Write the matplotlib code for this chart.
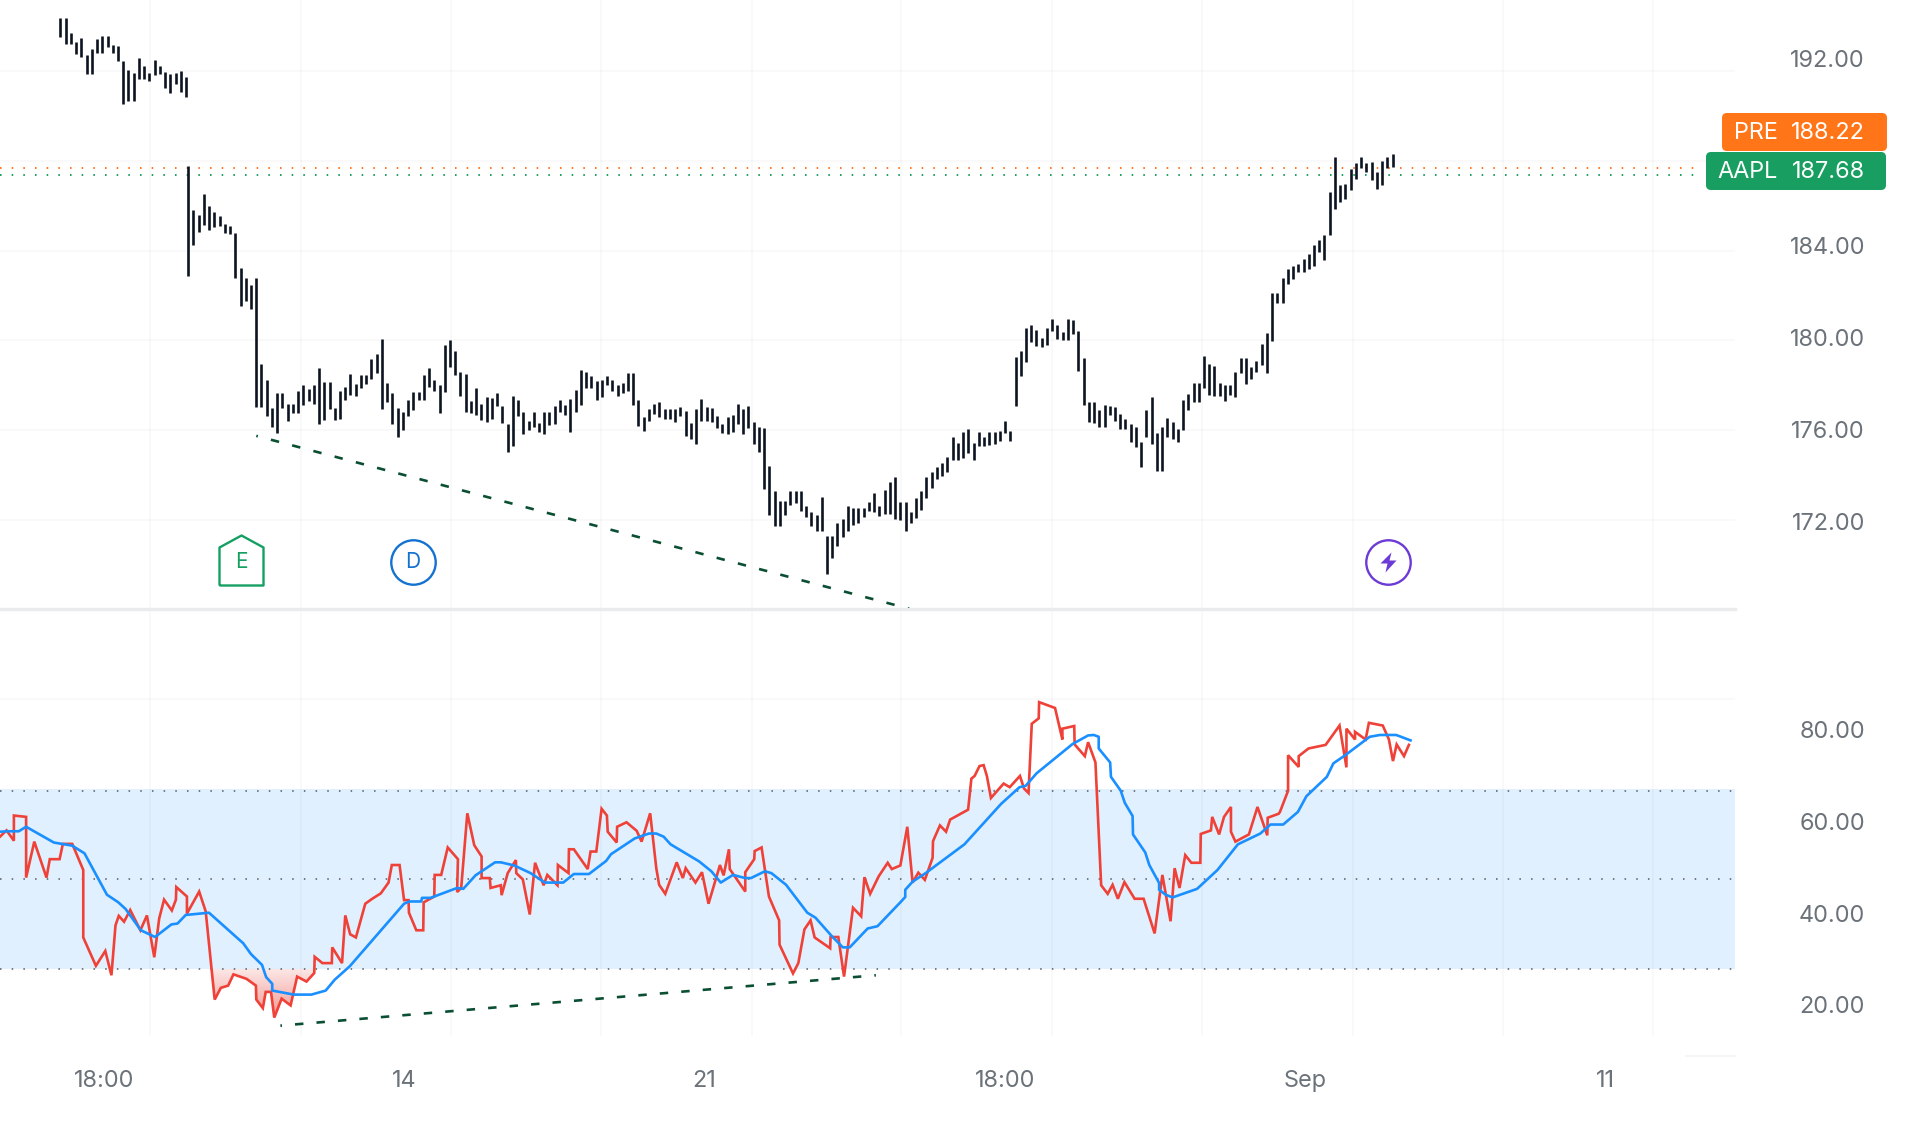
import matplotlib.pyplot as plt
from matplotlib.patches import FancyBboxPatch
import numpy as np

BAR_STEP = 12.83
FIRST_START = 148
SECOND_START = 461
RIGHT_T = 4251
GREY = '#6b7279'

plt.rcParams['font.family'] = ['Inter', 'DejaVu Sans']

# Bars before the gap

high_a = [194.35, 194.35, 193.69, 193.29, 193.46, 192.71, 192.99, 193.43, 193.55, 193.55, 193.16, 193.09, 192.44,
          192.05, 191.93, 192.56, 192.21, 191.91, 192.49, 192.23, 191.96, 191.86, 191.93, 192.02, 191.72]
low_a = [193.50, 193.20, 193.20, 192.76, 192.62, 191.88, 191.88, 192.81, 192.81, 193.08, 192.81, 192.46, 190.52,
         190.68, 190.68, 191.66, 191.66, 191.54, 191.84, 191.88, 191.22, 191.03, 191.40, 191.05, 190.82]

# Bars after the gap

high_b = [187.77, 185.79, 185.58, 186.50, 185.97, 185.70, 185.53, 185.19, 185.09, 184.79, 183.23, 182.76, 182.48,
          182.76, 178.95, 178.26, 177.01, 177.64, 177.64, 177.19, 177.19, 177.77, 178.00, 177.82, 178.00, 178.77,
          178.17, 178.17, 177.01, 177.77, 177.94, 178.51, 178.07, 178.47, 178.47, 179.18, 179.41, 180.06, 178.12,
          177.64, 177.01, 176.83, 177.33, 177.71, 177.71, 178.47, 178.79, 178.26, 178.00, 179.80, 180.01, 179.53,
          178.60, 178.51, 177.29, 177.86, 177.15, 177.50, 177.45, 177.64, 177.10, 176.27, 177.54, 177.36, 176.83,
          176.41, 176.83, 176.34, 176.80, 176.80, 177.06, 177.36, 177.11, 177.41, 177.80, 178.68, 178.60, 178.42,
          178.21, 178.24, 178.42, 178.24, 178.03, 178.12, 178.53, 178.53, 177.33,
          176.57, 176.96, 177.18, 177.24, 176.96, 176.94, 176.94, 177.05, 176.87, 176.32, 176.96, 177.41, 177.05,
          176.99, 176.62, 176.29, 176.57, 176.69, 177.18, 176.96, 177.06, 176.36, 176.13, 176.10, 174.41, 173.31,
          172.86, 172.86, 173.31, 173.31, 173.31, 172.62, 172.37, 172.22, 173.04, 171.28, 171.28, 171.85, 172.03,
          172.62, 172.55, 172.52, 172.52, 172.82, 173.19, 172.64, 173.34, 173.71, 173.93, 172.82, 172.82, 172.37,
          172.97, 173.29, 173.93, 174.13, 174.38, 174.53, 174.80, 175.71, 175.42, 175.92, 176.07, 175.42, 175.92,
          175.69, 175.90, 175.92, 175.95, 176.42, 175.95, 179.27, 179.52, 180.54, 180.67, 180.48, 180.12, 180.54,
          180.94, 180.69, 180.39, 180.94, 180.89, 180.42, 179.23, 177.26, 177.26, 176.91, 177.14, 177.09, 177.02,
          176.73, 176.51, 176.27, 176.13, 175.47, 176.91, 177.48, 175.86, 176.13, 176.54, 176.36, 176.07, 177.33,
          177.62, 178.11, 178.11, 179.30, 178.96, 178.88, 178.11, 178.00, 178.00, 178.58, 179.20, 179.20, 178.82,
          179.07, 179.82, 180.34, 182.10,
          182.11, 182.78, 183.18, 183.33, 183.42, 183.64, 183.87, 184.27, 184.49, 184.71, 186.61, 188.16, 186.94,
          186.98, 187.65, 187.88, 188.16, 187.91, 187.94, 187.52, 187.98, 188.16, 188.30]
low_b = [182.88, 184.24, 184.82, 185.12, 184.91, 185.03, 185.09, 184.79, 184.73, 182.79, 181.52, 181.74, 181.38,
         177.03, 177.03, 176.62, 176.13, 175.88, 176.97, 176.41, 176.76, 176.76, 177.11, 177.29, 177.19, 176.30,
         176.44, 176.94, 176.44, 176.51, 177.36, 177.56, 177.54, 177.89, 178.07, 178.30, 178.53, 176.94, 177.26,
         176.30, 175.70, 176.00, 176.62, 176.89, 177.33, 177.36, 177.94, 177.77, 176.76, 177.71, 178.83, 178.47,
         177.54, 176.80, 176.76, 176.66, 176.44, 176.36, 176.51, 177.06, 176.34, 175.03, 175.30, 176.62, 175.83,
         176.00, 176.13, 175.92, 175.83, 176.23, 176.30, 176.80, 176.66, 175.92, 176.80, 177.11, 177.89, 177.89,
         177.33, 177.47, 178.00, 177.77, 177.54, 177.64, 177.77, 177.11, 176.18,
         175.98, 176.42, 176.72, 176.57, 176.50, 176.50, 176.36, 176.62, 175.74, 175.62, 175.38, 176.42, 176.42,
         176.36, 176.10, 175.86, 175.84, 175.90, 176.29, 175.83, 176.10, 175.38, 175.02, 173.38, 172.22, 171.73,
         171.73, 172.22, 172.67, 172.74, 172.40, 172.15, 171.73, 171.53, 171.53, 169.61, 170.33, 170.83, 171.25,
         171.53, 171.77, 171.89, 172.15, 172.40, 172.37, 172.19, 172.25, 172.25, 172.04, 172.00, 171.53, 171.89,
         172.10, 172.44, 173.00, 173.44, 173.83, 173.98, 174.13, 174.68, 174.68, 174.75, 174.98, 174.68, 175.31,
         175.31, 175.35, 175.38, 175.54, 175.86, 175.53, 177.09, 178.42, 179.05, 179.94, 179.75, 179.70, 179.78,
         180.42, 180.07, 180.04, 180.01, 180.27, 178.63, 177.11, 176.35, 176.32, 176.16, 176.16, 176.66, 176.39,
         176.07, 176.07, 175.47, 175.26, 174.37, 175.72, 175.38, 174.19, 174.19, 175.72, 175.62, 175.47, 176.02,
         176.91, 177.26, 177.26, 177.88, 177.59, 177.53, 177.53, 177.29, 177.56, 177.47, 178.55, 178.08, 178.30,
         178.60, 178.90, 178.55, 179.97,
         181.67, 181.67, 182.53, 182.75, 183.05, 183.05, 183.20, 183.30, 183.94, 183.60, 184.68, 185.87, 186.17,
         186.32, 186.72, 187.21, 187.68, 187.52, 187.15, 186.74, 186.94, 187.70, 187.73]

# RSI line

rsi_t = [0, 16, 34, 34, 64, 64, 84, 114, 122, 146, 154, 177, 204, 204, 235, 258, 273, 283, 291, 304, 319, 344, 360,
         378, 390, 402, 421, 431, 432, 458, 458, 488, 504, 526, 541, 559, 572, 604, 627, 628, 644, 651, 664, 672,
         690, 712, 728, 751, 770, 771, 790, 813, 814, 838, 846, 858, 872, 895, 912, 933, 952, 960, 979, 990, 1001,
         1002, 1020, 1037, 1038, 1064, 1065, 1081, 1097, 1122, 1120, 1130, 1145, 1162, 1180, 1180, 1200, 1202, 1227,
         1229, 1244, 1264, 1265, 1281, 1298, 1311, 1332, 1341, 1366, 1367, 1393, 1394, 1406, 1440, 1447, 1461, 1474,
         1487, 1489, 1511, 1512, 1535, 1560, 1572, 1593, 1608, 1615, 1630, 1658, 1673, 1680, 1704, 1720, 1736, 1764,
         1773, 1786, 1788, 1826, 1826, 1848, 1849, 1866, 1884, 1909, 1910, 1943, 1956, 1971, 1986, 1996, 2034, 2035,
         2054, 2068, 2090, 2110, 2118, 2132, 2153, 2175, 2185, 2206, 2223, 2236, 2250, 2266, 2285, 2286, 2303, 2318,
         2328, 2372, 2380, 2388, 2400, 2410, 2418, 2428, 2459, 2474, 2499, 2509, 2520, 2528, 2545, 2546, 2585, 2603,
         2603, 2632, 2633, 2658, 2666, 2684, 2698, 2714, 2726, 2739, 2755, 2780, 2802, 2829, 2848, 2868, 2878, 2890,
         2904, 2919, 2941, 2942, 2967, 2970, 2987, 2999, 3016, 3016, 3027, 3060, 3081, 3105, 3106, 3133, 3136, 3156,
         3156, 3182, 3182, 3206, 3248, 3282, 3299, 3299, 3320, 3320, 3346, 3354, 3388, 3403, 3413, 3422, 3440, 3452]
rsi_val = [59.4, 60.8, 58.5, 64.1, 63.8, 50.3, 58.3, 50.3, 54.4, 54.4, 57.8, 57.8, 52.0, 37.0, 30.7, 34.0, 28.6, 39.7,
           41.8, 40.5, 43.1, 38.6, 41.9, 32.6, 41.2, 45.4, 43.0, 45.4, 48.2, 46.1, 42.3, 47.2, 42.8, 23.2, 25.8, 26.3,
           28.8, 27.8, 26.3, 23.2, 21.3, 24.9, 24.9, 19.2, 23.4, 21.9, 28.3, 27.2, 29.1, 32.7, 31.3, 31.3, 34.8, 31.3,
           41.9, 37.7, 37.0, 44.5, 45.6, 46.8, 49.2, 53.1, 53.1, 45.3, 45.3, 42.5, 38.6, 38.6, 44.8, 46.1, 50.9, 50.9,
           57.0, 54.4, 47.1, 48.0, 64.6, 57.5, 55.0, 50.2, 50.2, 48.0, 48.6, 46.4, 51.3, 54.2, 51.3, 49.9, 42.1, 53.6,
           48.6, 50.9, 48.6, 53.1, 51.3, 56.6, 56.6, 52.2, 56.1, 56.1, 65.6, 64.1, 60.5, 58.1, 61.6, 62.6, 60.7, 58.3,
           64.6, 52.4, 48.7, 46.7, 53.7, 50.2, 52.4, 49.2, 51.5, 44.5, 53.1, 50.8, 56.6, 52.2, 47.2, 51.5, 54.4, 56.2,
           57.0, 46.1, 40.8, 35.4, 29.0, 31.3, 38.8, 40.8, 37.0, 34.6, 37.1, 37.1, 28.3, 43.6, 41.7, 50.4, 46.7, 50.6,
           53.6, 52.2, 53.0, 61.6, 49.2, 51.4, 49.8, 54.7, 58.4, 61.9, 60.5, 63.2, 65.4, 72.3, 72.9, 75.1, 75.3, 72.9,
           68.0, 71.2, 70.4, 72.9, 70.1, 69.1, 84.5, 85.7, 89.3, 88.0, 81.0, 83.4, 84.0, 79.9, 77.3, 80.4, 75.9, 48.6,
           46.7, 48.7, 45.6, 49.3, 45.6, 45.6, 37.9, 50.9, 40.6, 52.4, 48.0, 55.3, 53.6, 53.6, 60.0, 60.8, 63.8, 59.9,
           63.8, 66.0, 60.5, 58.3, 59.9, 66.0, 59.7, 63.6, 64.5, 64.9, 69.6, 77.5, 74.9, 77.3, 79.0, 79.8, 84.1, 74.8,
           83.4, 81.0, 82.7, 81.0, 84.7, 84.1, 81.0, 76.2, 79.9, 77.3, 79.8]

# Moving average of the RSI

ma_t = [0, 20, 46, 64, 132, 177, 207, 262, 290, 308, 345, 380, 420, 435, 455, 512, 596, 615, 642, 652, 667, 667, 720,
        763, 798, 820, 857, 990, 1003, 1032, 1034, 1055, 1120, 1135, 1165, 1213, 1227, 1260, 1300, 1335, 1380, 1406,
        1443, 1485, 1497, 1555, 1590, 1608, 1626, 1643, 1713, 1743, 1766, 1796, 1826, 1840, 1874, 1890, 1926, 1978,
        1998, 2038, 2065, 2082, 2126, 2150, 2208, 2218, 2218, 2236, 2268, 2363, 2453, 2498, 2513, 2540, 2628, 2666,
        2680, 2692, 2692, 2720, 2722, 2746, 2756, 2775, 2776, 2806, 2816, 2840, 2840, 2856, 2873, 2933, 2983, 3033,
        3088, 3113, 3144, 3180, 3201, 3251, 3267, 3296, 3356, 3381, 3421, 3456]
ma_val = [60.5, 60.6, 60.6, 61.6, 58.1, 57.4, 55.7, 46.5, 44.8, 43.3, 38.6, 37.1, 39.9, 40.1, 42.0, 42.5, 35.7, 33.3,
          30.9, 28.2, 26.7, 25.2, 24.3, 24.3, 25.2, 27.6, 30.6, 44.5, 45.0, 45.0, 45.8, 45.8, 48.0, 47.8, 50.8, 53.7,
          53.7, 53.0, 51.3, 49.2, 49.2, 51.1, 51.1, 54.0, 55.5, 59.0, 60.1, 60.1, 59.4, 57.7, 53.9, 51.7, 49.2, 50.9,
          50.2, 50.2, 51.7, 51.3, 48.7, 42.5, 41.4, 37.3, 34.8, 34.8, 39.0, 39.5, 45.0, 46.0, 47.6, 49.4, 51.3, 57.7,
          66.7, 70.4, 70.7, 73.5, 80.0, 81.9, 82.0, 81.6, 79.0, 75.9, 72.7, 69.6, 66.9, 64.0, 59.9, 55.9, 53.1, 49.1,
          47.6, 46.5, 45.9, 47.8, 52.0, 57.7, 60.1, 62.1, 62.1, 64.9, 68.4, 72.7, 75.7, 77.5, 81.6, 82.0, 82.0, 80.8]

price_ticks = ['192.00', '184.00', '180.00', '176.00', '172.00']
rsi_ticks = ['80.00', '60.00', '40.00', '20.00']
time_ticks = ['18:00', '14', '21', '18:00', 'Sep', '11']
time_grid = [368, 738, 1105, 1472, 1843, 2208, 2578, 2945, 3314, 3683, 4049]
price_grid = [192, 188, 184, 180, 176, 172]

fig = plt.figure(figsize=(19.2, 11.26), dpi=100)
ax = fig.add_axes([0, 1 - 609 / 1126, 1735 / 1920, 609 / 1126])
ax2 = fig.add_axes([0, 1 - 1036 / 1126, 1735 / 1920, 427 / 1126])
overlay = fig.add_axes([0, 0, 1, 1])
overlay.set_xlim(0, 1920)
overlay.set_ylim(1126, 0)
overlay.axis('off')

for a in (ax, ax2):
    a.set_xlim(0, RIGHT_T)
    a.set_xticks(time_grid)
    a.tick_params(length=0, labelbottom=False, labelleft=False)
    a.grid(True, color='black', alpha=0.025, linewidth=1.5)
    a.set_axisbelow(True)
    for side in a.spines:
        a.spines[side].set_visible(False)

ax.set_ylim(168.04, 195.16)
ax.set_yticks(price_grid)
ax2.set_facecolor('none')

ax.plot([0, 4170], [187.68, 187.68], color='#ff7518', linewidth=1.4, linestyle=(0, (0.8, 5.2)))
ax.plot([0, 4170], [187.38, 187.38], color='#189e60', linewidth=1.4, linestyle=(0, (0.8, 5.2)))

x_a = FIRST_START + np.arange(len(high_a)) * BAR_STEP
x_b = SECOND_START + np.arange(len(high_b)) * BAR_STEP
ax.vlines(x_a, low_a, high_a, color='#0d1421', linewidth=1.9)
ax.vlines(x_b, low_b, high_b, color='#0d1421', linewidth=1.9)

ax.plot([628, 2228], [175.75, 168.05], color='#0b4f33', linewidth=1.9, linestyle=(2.6, (3.2, 5.12)))

# Event markers

ax.plot([591], [170.2], marker=[(-22, -25), (-22, 13), (0, 25), (22, 13), (22, -25), (-22, -25)], markersize=36,
        markerfacecolor='white', markeredgecolor='#159f62', markeredgewidth=1.7)
ax.plot([1012], [170.13], marker='o', markersize=32, markerfacecolor='white', markeredgecolor='#1472d0',
        markeredgewidth=1.7)
ax.plot([3401], [170.13], marker='o', markersize=32, markerfacecolor='white', markeredgecolor='#6c3bd5',
        markeredgewidth=1.7)
ax.plot([3401], [170.13], marker=[(3, 10), (-8, -1), (-1, -1), (-3, -10), (8, 2), (1, 2), (3, 10)], markersize=14.4,
        color='#6c3bd5', markeredgewidth=0)
ax.text(591, 170.13, 'E', color='#159f62', fontsize=15, ha='center', va='center')
ax.text(1012, 170.13, 'D', color='#1472d0', fontsize=15, ha='center', va='center')

ax2.set_ylim(15.1, 110)
ax2.set_yticks([90])
ax2.axhspan(30, 70, color='#e0f0fe', linewidth=0, zorder=0)
for level in (69.5, 50, 30):
    ax2.plot([0, RIGHT_T], [level, level], color='#55595e', linewidth=1.1, linestyle=(0, (1, 6.65)))

t = np.array(rsi_t)
val = np.array(rsi_val)
oversold = ax2.fill_between(t, val, 30, where=(val < 30) & (t > 500) & (t < 800), interpolate=True, linewidth=0,
                            color='none')
grad = np.zeros((64, 1, 4))
grad[:, 0, 0] = 0.90
grad[:, 0, 1] = 0.26
grad[:, 0, 2] = 0.22
grad[:, 0, 3] = np.linspace(0.12, 0.55, 64)
img = ax2.imshow(grad, extent=(500, 800, 19, 30), aspect='auto', origin='upper', zorder=1.5)
img.set_clip_path(oversold.get_paths()[0], transform=ax2.transData)
ax2.set_xlim(0, RIGHT_T)
ax2.set_ylim(15.1, 110)

ax2.plot(rsi_t, rsi_val, color='#ef4137', linewidth=1.9, solid_joinstyle='miter', zorder=3)
ax2.plot(ma_t, ma_val, color='#1a8fff', linewidth=1.9, zorder=4)
ax2.plot([687, 2146], [17.4, 28.6], color='#0b4f33', linewidth=1.9, linestyle=(2.6, (3.2, 4.96)), zorder=5)

# Labels outside the panes

overlay.plot([0, 1735], [609, 609], color='#e9ebec', linewidth=2.4)
for label, y in zip(price_ticks, [61, 248, 340, 432, 524]):
    overlay.text(1865, y, label, color=GREY, fontsize=16.9, ha='right', va='center')
for label, y in zip(rsi_ticks, [732, 824, 916, 1007]):
    overlay.text(1865, y, label, color=GREY, fontsize=16.9, ha='right', va='center')
for label, x in zip(time_ticks, [104, 404, 704, 1005, 1305, 1605]):
    overlay.text(x, 1081, label, color=GREY, fontsize=16.9, ha='center', va='center')
overlay.plot([1686, 1735], [1056, 1056], color='#f5f6f7', linewidth=1.4)

overlay.add_patch(FancyBboxPatch((1725, 116), 159, 32, boxstyle='round,pad=3,rounding_size=5', color='#ff7518',
                                 linewidth=0))
overlay.add_patch(FancyBboxPatch((1709, 155), 174, 32, boxstyle='round,pad=3,rounding_size=5', color='#189e60',
                                 linewidth=0))
overlay.text(1734, 133, 'PRE', color='white', fontsize=16.9, ha='left', va='center')
overlay.text(1865, 133, '188.22', color='white', fontsize=16.9, ha='right', va='center')
overlay.text(1717, 172, 'AAPL', color='white', fontsize=16.9, ha='left', va='center')
overlay.text(1865, 172, '187.68', color='white', fontsize=16.9, ha='right', va='center')

plt.savefig('out.png', dpi=100)
